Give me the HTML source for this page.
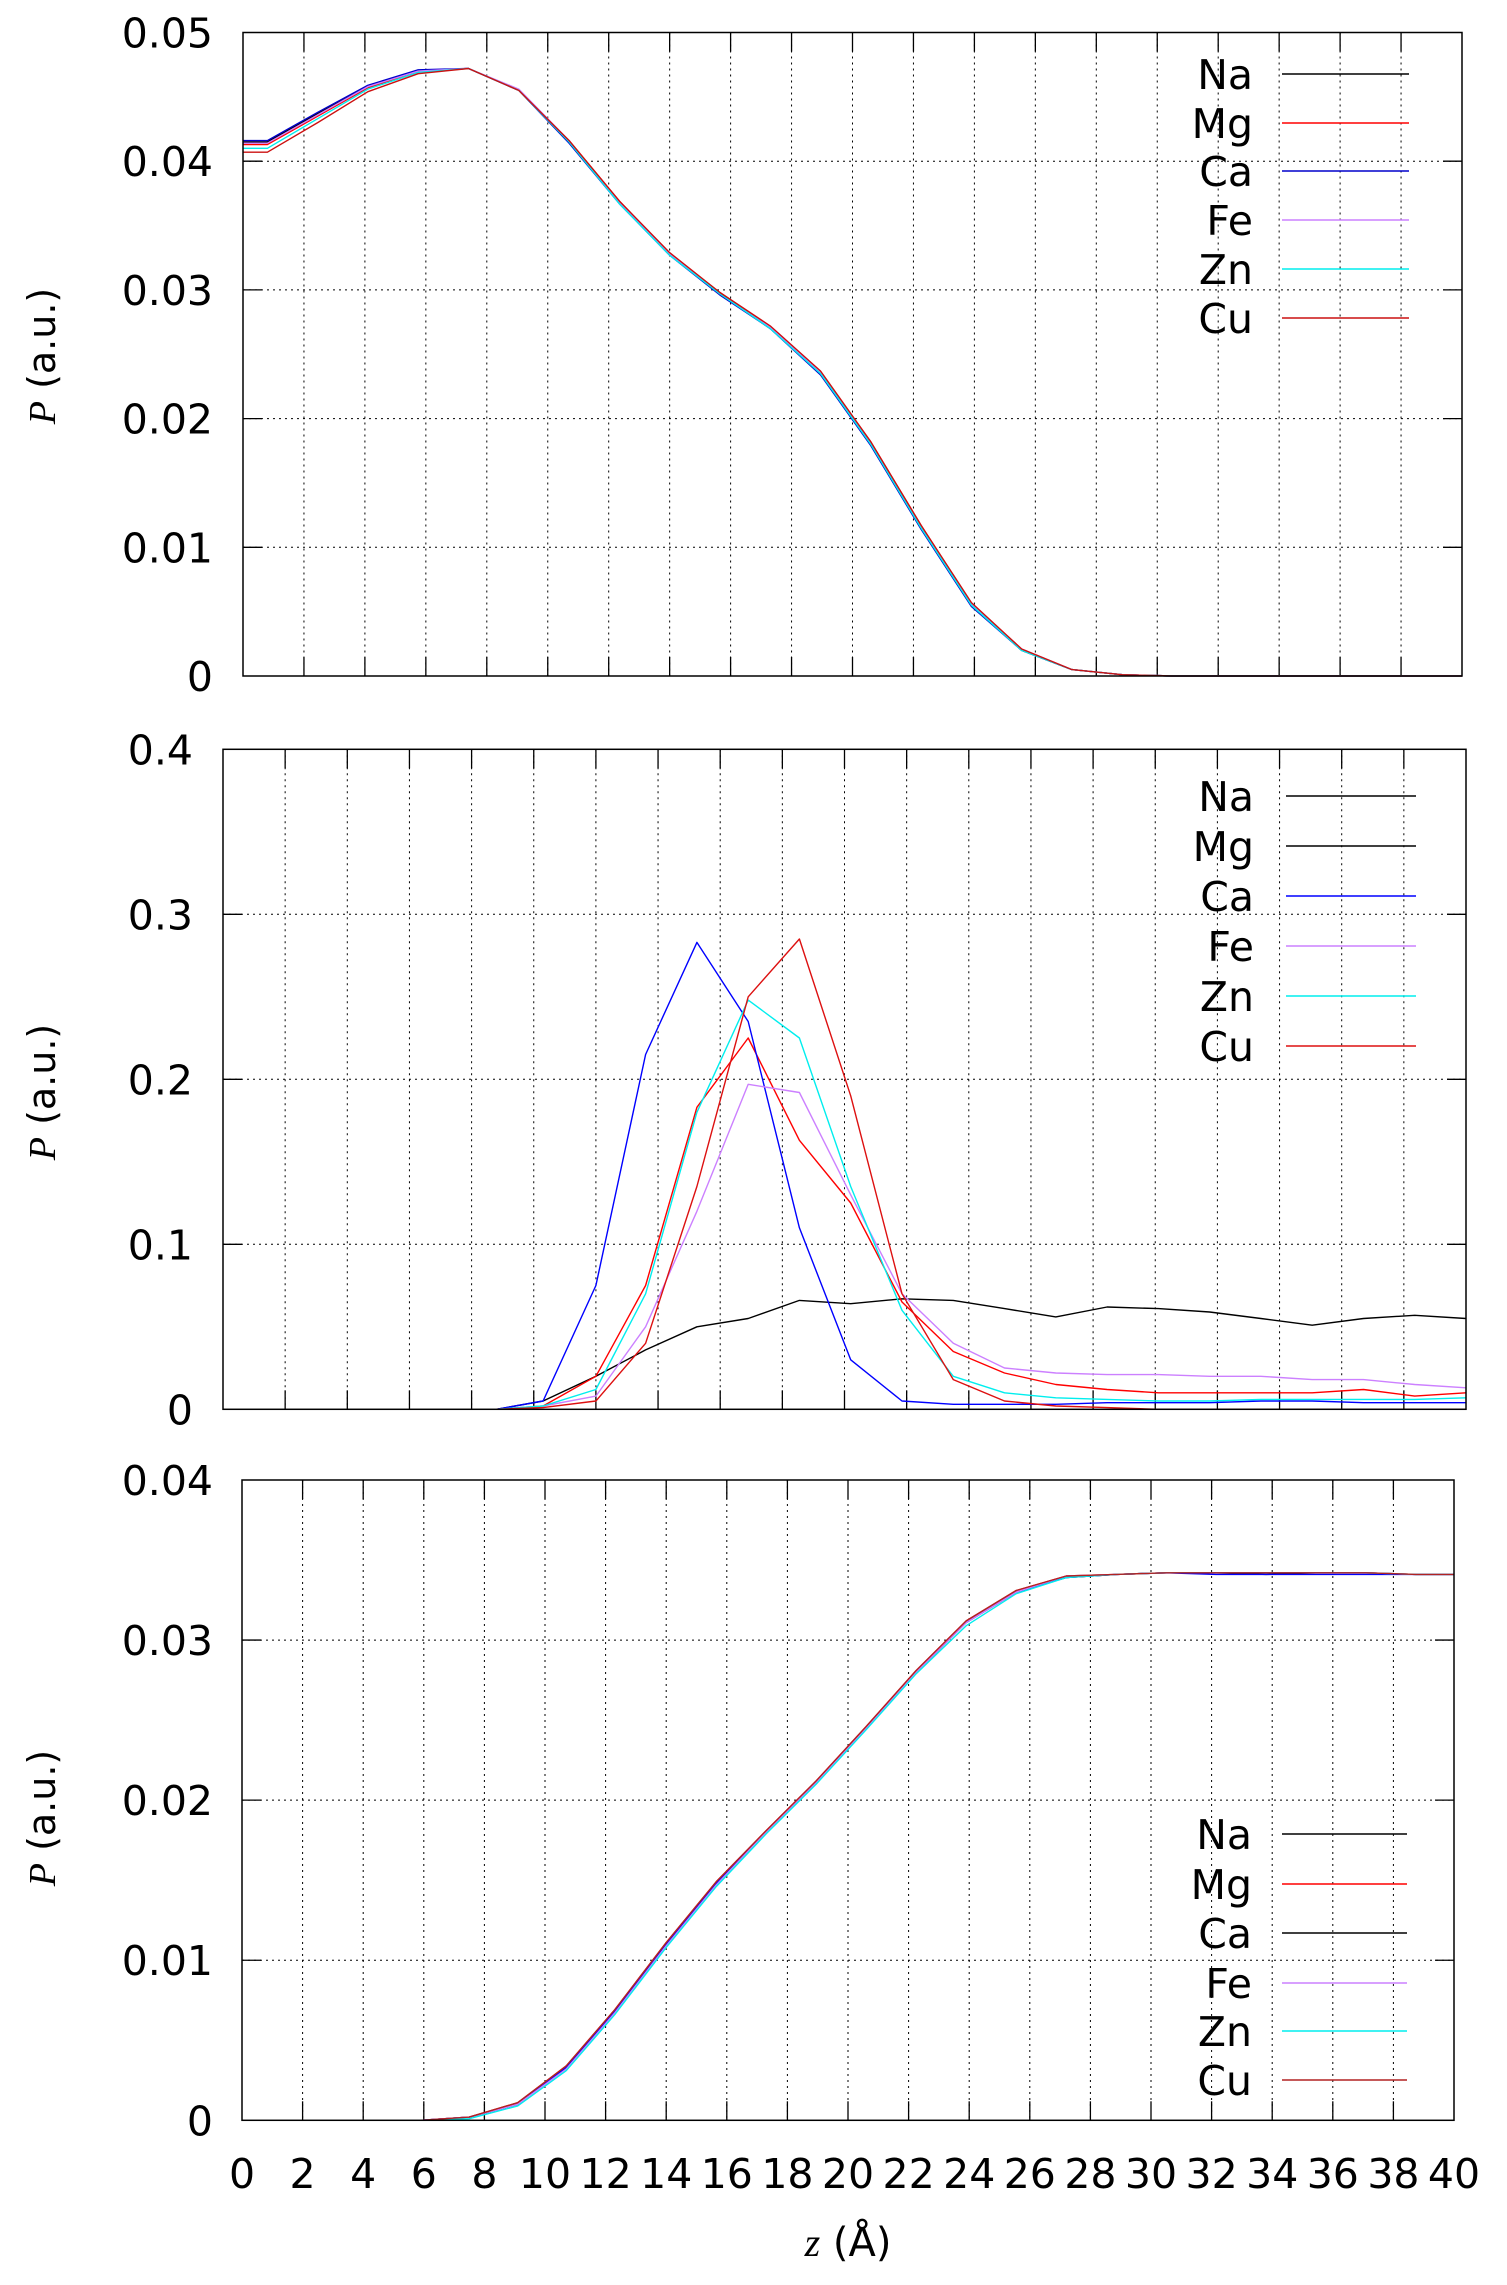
<!DOCTYPE html>
<html><head><meta charset="utf-8">
<style>
html,body{margin:0;padding:0;background:#fff;}
svg{display:block;font-family:"DejaVu Sans","Liberation Sans",sans-serif;}
</style></head>
<body>
<svg id="chart" width="1507" height="2285" viewBox="0 0 1507 2285" xmlns="http://www.w3.org/2000/svg">
<rect x="0" y="0" width="1507" height="2285" fill="#fff"/>
</svg>
<script>
// ---------- data ----------
const seriesNames = ["Na","Mg","Ca","Fe","Zn","Cu"];
const xTickValues = [0,2,4,6,8,10,12,14,16,18,20,22,24,26,28,30,32,34,36,38,40];
const xTickLabels = ["0","2","4","6","8","10","12","14","16","18","20","22","24","26","28","30","32","34","36","38","40"];

// panel 1
const p1Ticks = [0,0.01,0.02,0.03,0.04,0.05];
const p1TickLabels = ["0","0.01","0.02","0.03","0.04","0.05"];
const p1X = [0,0.8,2.45,4.1,5.75,7.4,9.05,10.7,12.35,14,15.65,17.3,18.95,20.6,22.25,23.9,25.55,27.2,28.85,30.5,32.15,33.8,35.45,37.1,38.75,40];
const p1Na = [0.0415,0.0415,0.0437,0.0458,0.0470,0.0472,0.0455,0.0415,0.0368,0.0328,0.0297,0.0270,0.0235,0.0180,0.0115,0.0055,0.0020,0.0005,0.0001,0,0,0,0,0,0,0];
const p1Mg = [0.0413,0.0413,0.0435,0.0457,0.0470,0.0472,0.0455,0.0416,0.0369,0.0328,0.0298,0.0271,0.0236,0.0182,0.0117,0.0056,0.0021,0.0005,0.0001,0,0,0,0,0,0,0];
const p1Ca = [0.0416,0.0416,0.0438,0.0459,0.0471,0.0472,0.0455,0.0414,0.0367,0.0327,0.0296,0.0270,0.0234,0.0179,0.0114,0.0054,0.0020,0.0005,0.0001,0,0,0,0,0,0,0];
const p1Fe = [0.0414,0.0414,0.0436,0.0458,0.0470,0.0472,0.0456,0.0416,0.0368,0.0328,0.0297,0.0271,0.0236,0.0181,0.0116,0.0056,0.0021,0.0005,0.0001,0,0,0,0,0,0,0];
const p1Zn = [0.0410,0.0410,0.0433,0.0456,0.0469,0.0472,0.0455,0.0415,0.0367,0.0327,0.0297,0.0270,0.0235,0.0180,0.0115,0.0055,0.0020,0.0005,0.0001,0,0,0,0,0,0,0];
const p1Cu = [0.0407,0.0407,0.0430,0.0454,0.0468,0.0472,0.0455,0.0416,0.0369,0.0329,0.0298,0.0272,0.0237,0.0182,0.0117,0.0057,0.0021,0.0005,0.0001,0,0,0,0,0,0,0];

// panel 2
const p2Ticks = [0,0.1,0.2,0.3,0.4];
const p2TickLabels = ["0","0.1","0.2","0.3","0.4"];
const p2X = [8.8,10.3,12.0,13.6,15.25,16.9,18.55,20.2,21.85,23.5,25.15,26.8,28.45,30.1,31.75,33.4,35.05,36.7,38.35,40];
const p2Na = [0,0.005,0.02,0.036,0.050,0.055,0.066,0.064,0.067,0.066,0.061,0.056,0.062,0.061,0.059,0.055,0.051,0.055,0.057,0.055];
const p2Mg = [0,0.002,0.020,0.075,0.183,0.225,0.163,0.125,0.065,0.035,0.022,0.015,0.012,0.010,0.010,0.010,0.010,0.012,0.008,0.010];
const p2Ca = [0,0.005,0.075,0.215,0.283,0.235,0.110,0.030,0.005,0.003,0.003,0.003,0.004,0.004,0.004,0.005,0.005,0.004,0.004,0.004];
const p2Fe = [0,0.002,0.008,0.050,0.120,0.197,0.192,0.130,0.070,0.040,0.025,0.022,0.021,0.021,0.020,0.020,0.018,0.018,0.015,0.013];
const p2Zn = [0,0.002,0.012,0.070,0.180,0.248,0.225,0.135,0.060,0.020,0.010,0.007,0.006,0.005,0.005,0.006,0.006,0.006,0.006,0.007];
const p2Cu = [0,0.001,0.005,0.040,0.135,0.250,0.285,0.190,0.070,0.018,0.005,0.002,0.001,0,0,0,0,0,0,0];

// panel 3
const p3Ticks = [0,0.01,0.02,0.03,0.04];
const p3TickLabels = ["0","0.01","0.02","0.03","0.04"];
const p3X = [5.9,7.5,9.1,10.7,12.3,14,15.65,17.3,18.95,20.6,22.25,23.9,25.55,27.2,28.85,30.5,32.15,33.8,35.45,37.1,38.75,40];
const p3Na = [0,0.0002,0.0010,0.0033,0.0068,0.0110,0.0148,0.0180,0.0211,0.0245,0.0280,0.0311,0.0330,0.0339,0.0341,0.0342,0.0342,0.0341,0.0342,0.0342,0.0341,0.0341];
const p3Mg = [0,0.0002,0.0011,0.0034,0.0069,0.0111,0.0149,0.0181,0.0212,0.0246,0.0281,0.0312,0.0331,0.0340,0.0341,0.0342,0.0342,0.0342,0.0342,0.0342,0.0341,0.0341];
const p3Ca = [0,0.0002,0.0010,0.0033,0.0068,0.0110,0.0148,0.0180,0.0211,0.0245,0.0280,0.0311,0.0330,0.0339,0.0341,0.0342,0.0341,0.0341,0.0341,0.0341,0.0341,0.0341];
const p3Fe = [0,0.0002,0.0010,0.0032,0.0067,0.0109,0.0147,0.0180,0.0211,0.0245,0.0280,0.0311,0.0330,0.0340,0.0341,0.0342,0.0342,0.0342,0.0342,0.0342,0.0341,0.0341];
const p3Zn = [0,0.0001,0.0009,0.0031,0.0066,0.0108,0.0146,0.0179,0.0210,0.0244,0.0279,0.0309,0.0329,0.0339,0.0341,0.0342,0.0342,0.0342,0.0342,0.0342,0.0341,0.0341];
const p3Cu = [0,0.0002,0.0011,0.0034,0.0069,0.0111,0.0149,0.0181,0.0212,0.0246,0.0281,0.0312,0.0331,0.0340,0.0341,0.0342,0.0342,0.0342,0.0342,0.0342,0.0341,0.0341];

// ---------- drawing ----------
const NS = "http://www.w3.org/2000/svg";
const svg = document.getElementById('chart');
function mk(tag, attrs, parent){
  const e = document.createElementNS(NS, tag);
  for (const k in attrs) e.setAttribute(k, attrs[k]);
  (parent||svg).appendChild(e);
  return e;
}

const panels = [
  {id:'top', L:243, R:1462, T:32.5, B:676, ymax:0.05, ticks:p1Ticks, labels:p1TickLabels, labR:213, ylabY:356,
   xs:p1X, data:[p1Na,p1Mg,p1Ca,p1Fe,p1Zn,p1Cu],
   colors:['#000000','#ff0000','#0000cc','#cc80ff','#00eeee','#cc1010'],
   legColors:['#000000','#ff0000','#0000cc','#cc80ff','#00eeee','#cc1010'],
   legY:[74,123,171,220,269,318], legTextR:1253, legL:1282, legR2:1409},
  {id:'middle', L:223, R:1466, T:749.3, B:1409.3, ymax:0.4, ticks:p2Ticks, labels:p2TickLabels, labR:193, ylabY:1092,
   xs:p2X, data:[p2Na,p2Mg,p2Ca,p2Fe,p2Zn,p2Cu],
   colors:['#000000','#ff0000','#0000ff','#cc80ff','#00eeee','#dd1010'],
   legColors:['#000000','#000000','#0000ff','#cc80ff','#00eeee','#dd1010'],
   legY:[796,846,896,946,996,1046], legTextR:1254, legL:1286, legR2:1416},
  {id:'bottom', L:242, R:1454, T:1480, B:2120.3, ymax:0.04, ticks:p3Ticks, labels:p3TickLabels, labR:213, ylabY:1818,
   xs:p3X, data:[p3Na,p3Mg,p3Ca,p3Fe,p3Zn,p3Cu],
   colors:['#000000','#ff0000','#0000ff','#cc80ff','#00eeee','#b22222'],
   legColors:['#000000','#ff0000','#000000','#cc80ff','#00eeee','#b22222'],
   legY:[1834,1884,1933,1983,2031,2080], legTextR:1252, legL:1282, legR2:1407, xlabels:true}
];

panels.forEach(p=>{
  const g = mk('g', {});
  
  
  const sx = v => p.L + (v/40)*(p.R-p.L);
  const sy = v => p.B - (v/p.ymax)*(p.B-p.T);

  xTickValues.forEach((v,i)=>{
    if (i===0 || i===xTickValues.length-1) return;
    const ln = mk('line',{x1:sx(v),x2:sx(v),y1:p.T,y2:p.B,stroke:'#000','stroke-width':1,'stroke-dasharray':'2,4'},g);
    
    
    const t1 = mk('line',{x1:sx(v),x2:sx(v),y1:p.B,y2:p.B-19,stroke:'#000','stroke-width':1.3},g);
    
    
    const t2 = mk('line',{x1:sx(v),x2:sx(v),y1:p.T,y2:p.T+19,stroke:'#000','stroke-width':1.3},g);
    
    
  });
  p.ticks.forEach((v,i)=>{
    if (i!==0 && i!==p.ticks.length-1){
      const ln = mk('line',{x1:p.L,x2:p.R,y1:sy(v),y2:sy(v),stroke:'#000','stroke-width':1,'stroke-dasharray':'2,4'},g);
      
      
      const t1 = mk('line',{x1:p.L,x2:p.L+19,y1:sy(v),y2:sy(v),stroke:'#000','stroke-width':1.3},g);
      
      
      const t2 = mk('line',{x1:p.R,x2:p.R-19,y1:sy(v),y2:sy(v),stroke:'#000','stroke-width':1.3},g);
      
      
    }
    const tx = mk('text',{x:p.labR,y:sy(v)+15,'text-anchor':'end','font-size':41,fill:'#000'},g);
    tx.textContent = p.labels[i];
    
    
  });

  p.data.forEach((vals,si)=>{
    const pts = vals.map((v,i)=> sx(p.xs[i]).toFixed(1)+','+sy(v).toFixed(1)).join(' ');
    const pl = mk('polyline',{points:pts,fill:'none',stroke:p.colors[si],'stroke-width':1.4,'stroke-linejoin':'round'},g);
    
    
  });

  seriesNames.forEach((n,si)=>{
    const t = mk('text',{x:p.legTextR,y:p.legY[si]+15,'text-anchor':'end','font-size':41,fill:'#000'},g);
    t.textContent = n;
    
    
    const ln = mk('line',{x1:p.legL,x2:p.legR2,y1:p.legY[si],y2:p.legY[si],stroke:p.legColors[si],'stroke-width':1.4},g);
    
    
  });

  const fr = mk('rect',{x:p.L,y:p.T,width:p.R-p.L,height:p.B-p.T,fill:'none',stroke:'#000','stroke-width':1.5},g);
  
  

  const yl = mk('text',{x:0,y:0,'font-size':38,fill:'#000','text-anchor':'middle',transform:'translate(55,'+p.ylabY+') rotate(-90)'},g);
  
  
  const ps = mk('tspan',{'font-family':'"Liberation Serif",serif','font-style':'italic'},yl);
  ps.textContent = 'P';
  const rest = mk('tspan',{},yl);
  rest.textContent = ' (a.u.)';

  if (p.xlabels){
    xTickValues.forEach((v,i)=>{
      const t = mk('text',{x:sx(v),y:2188,'text-anchor':'middle','font-size':41,fill:'#000'},g);
      t.textContent = xTickLabels[i];
      
      
    });
    const xl = mk('text',{x:(p.L+p.R)/2,y:2256,'text-anchor':'middle','font-size':40,fill:'#000'},g);
    
    
    const zs = mk('tspan',{'font-family':'"Liberation Serif",serif','font-style':'italic'},xl);
    zs.textContent = 'z';
    const r2 = mk('tspan',{},xl);
    r2.textContent = ' (Å)';
  }
});
</script>
</body></html>
